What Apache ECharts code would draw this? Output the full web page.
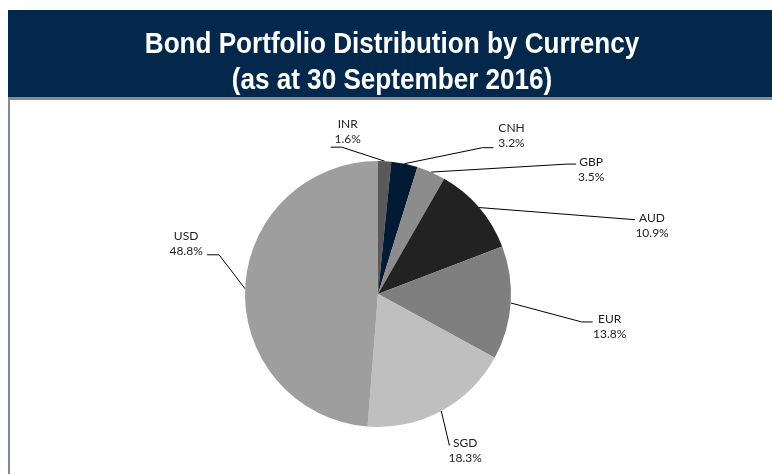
<!DOCTYPE html>
<html>
<head>
<meta charset="utf-8">
<script src="https://cdn.jsdelivr.net/npm/echarts@6/dist/echarts.min.js"></script>
<style>
  html, body { margin: 0; padding: 0; background: #fff; }
  #chart { width: 772px; height: 474px; }
</style>
</head>
<body>
<div id="chart"></div>
<script>
// data
const currencies = ['INR', 'CNH', 'GBP', 'AUD', 'EUR', 'SGD', 'USD'];
const shares = [1.6, 3.2, 3.5, 10.9, 13.8, 18.3, 48.8];
const titleLines = ['Bond Portfolio Distribution by Currency', '(as at 30 September 2016)'];

// styles
const sliceColors = ['#595959', '#021a33', '#8c8c8c', '#222222', '#7f7f7f', '#bfbfbf', '#9e9e9e'];
// leader line: elbow offset from slice edge, horizontal tail, label offset from tail end
const elbow = [[-43, -14], [78, -16], [136, -8], [154, 12], [71, 19], [8, 34], [-26, -34]];
const tail = [-11, 11, 9, 2, 11, 1, -12];
const labelOff = [[17, -16], [18, -12], [15, 6], [17, 6], [17, 5], [15, 6], [-21, -11]];

const chart = echarts.init(document.getElementById('chart'));

const titleText = titleLines.map((t, i) => ({
    type: 'text',
    x: 392,
    y: 45 + i * 36,
    scaleX: 0.9,
    z: 5,
    style: {
        text: t,
        fill: '#fff',
        font: 'bold 29px "Liberation Sans", Arial, sans-serif',
        textAlign: 'center',
        textVerticalAlign: 'middle'
    }
}));

chart.setOption({
    animation: false,
    backgroundColor: '#fff',
    graphic: [
        { type: 'rect', shape: { x: 8, y: 10, width: 764, height: 87 }, style: { fill: '#03284c' }, z: 0 },
        { type: 'rect', shape: { x: 8, y: 97, width: 764, height: 3 }, style: { fill: '#8a8a8a' }, z: 0 },
        { type: 'rect', shape: { x: 8, y: 100, width: 2, height: 374 }, style: { fill: '#7d8ba0' }, z: 0 }
    ].concat(titleText),
    series: [{
        type: 'pie',
        center: [378, 294],
        radius: 133,
        startAngle: 90,
        clockwise: true,
        avoidLabelOverlap: false,
        itemStyle: { borderWidth: 0 },
        label: {
            show: true,
            position: 'outside',
            formatter: p => p.name + '\n' + p.value.toFixed(1) + '%',
            fontFamily: 'Lato',
            fontSize: 12,
            lineHeight: 15,
            color: '#222',
            align: 'center'
        },
        labelLine: {
            show: true,
            length: 20,
            length2: 10,
            lineStyle: { color: '#000', width: 1 }
        },
        labelLayout: function (params) {
            const i = params.dataIndex;
            const p0 = params.labelLinePoints[0];
            const p1 = [p0[0] + elbow[i][0], p0[1] + elbow[i][1]];
            const p2 = [p1[0] + tail[i], p1[1]];
            return {
                x: p2[0] + labelOff[i][0],
                y: p2[1] + labelOff[i][1],
                align: 'center',
                verticalAlign: 'middle',
                labelLinePoints: [p0, p1, p2]
            };
        },
        data: currencies.map((c, i) => ({
            name: c,
            value: shares[i],
            itemStyle: { color: sliceColors[i] }
        }))
    }]
});
</script>
</body>
</html>
